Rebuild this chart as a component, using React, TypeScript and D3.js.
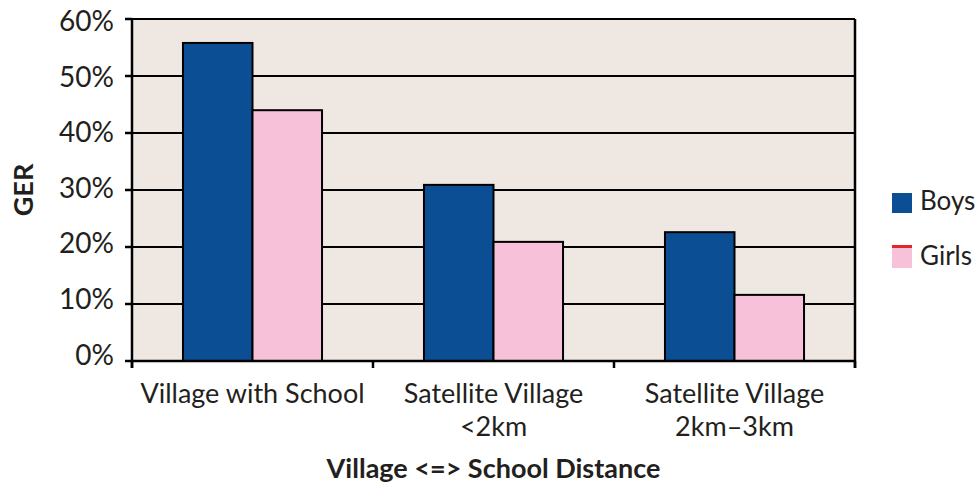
import React from "react";
import * as d3 from "d3";

const categories: string[][] = [
  ["Village with School"],
  ["Satellite Village", "<2km"],
  ["Satellite Village", "2km–3km"],
];
const seriesNames = ["Boys", "Girls"];
const boys = [55.8, 30.9, 22.6];
const girls = [44.0, 20.9, 11.6];
const yTicks = [0, 10, 20, 30, 40, 50, 60];
const yTitle = "GER";
const xTitle = "Village <=> School Distance";

const W = 977;
const H = 484;
const M = { left: 132, right: 855, top: 19, bottom: 361 };
const FONT = "Lato, 'Noto Sans', sans-serif";
const TEXT = "#231f20";
const BG = "#efe8e2";
const BLUE = "#0c4e93";
const PINK = "#f6c1d9";
const RED = "#e4262b";

export default function App() {
  const catKeys = categories.map((c) => c.join(" "));
  const x0 = d3
    .scaleBand<string>()
    .domain(catKeys)
    .range([M.left, M.right])
    .paddingInner(0.423)
    .paddingOuter(0.2115);
  const x1 = d3.scaleBand<string>().domain(seriesNames).range([0, x0.bandwidth()]);
  const y = d3.scaleLinear().domain([0, 60]).range([M.bottom, M.top]);
  const yLab = d3.scaleLinear().domain([0, 60]).range([355.5, 22]);
  const step = (M.right - M.left) / categories.length;
  const boundaries = d3.range(categories.length + 1).map((i) => M.left + i * step);
  const values = [boys, girls];
  const colors = [BLUE, PINK];

  return (
    <svg
      width={W}
      height={H}
      style={{ position: "absolute", left: 0, top: 0, background: "#fff" }}
      fontFamily={FONT}
    >
      <rect x={M.left} y={M.top} width={M.right - M.left} height={M.bottom - M.top} fill={BG} />
      {yTicks.filter((t) => t > 0).map((t) => (
        <line key={"g" + t} x1={M.left} x2={M.right} y1={y(t)} y2={y(t)} stroke="#000" strokeWidth={2} />
      ))}
      {catKeys.map((k, ci) =>
        seriesNames.map((s, si) => (
          <rect
            key={k + s}
            x={(x0(k) as number) + (x1(s) as number)}
            y={y(values[si][ci])}
            width={x1.bandwidth()}
            height={M.bottom - y(values[si][ci])}
            fill={colors[si]}
            stroke="#000"
            strokeWidth={2}
          />
        ))
      )}
      {/* axes */}
      <line x1={M.left} x2={M.left} y1={M.top} y2={M.bottom + 7} stroke="#000" strokeWidth={2.5} />
      <line x1={M.right} x2={M.right} y1={M.top} y2={M.bottom + 7} stroke="#000" strokeWidth={2.5} />
      <line x1={M.left} x2={M.right} y1={M.bottom} y2={M.bottom} stroke="#000" strokeWidth={2.5} />
      {yTicks.map((t) => (
        <line key={"t" + t} x1={M.left - 7} x2={M.left} y1={y(t)} y2={y(t)} stroke="#000" strokeWidth={2.5} />
      ))}
      {boundaries.map((bx, i) => (
        <line key={"b" + i} x1={bx} x2={bx} y1={M.bottom} y2={M.bottom + 7} stroke="#000" strokeWidth={2.5} />
      ))}
      {yTicks.map((t) => (
        <text key={"l" + t} x={114} y={yLab(t) + 9} textAnchor="end" fontSize={28} fill={TEXT}>
          {t + "%"}
        </text>
      ))}
      {categories.map((lines, ci) => (
        <text
          key={"c" + ci}
          x={(x0(catKeys[ci]) as number) + x0.bandwidth() / 2}
          y={403}
          textAnchor="middle"
          fontSize={27}
          fill={TEXT}
        >
          {lines.map((ln, li) => (
            <tspan key={li} x={(x0(catKeys[ci]) as number) + x0.bandwidth() / 2} dy={li === 0 ? 0 : 33}>
              {ln}
            </tspan>
          ))}
        </text>
      ))}
      <text x={(M.left + M.right) / 2} y={478} textAnchor="middle" fontSize={27} fontWeight="bold" fill={TEXT}>
        {xTitle}
      </text>
      <text
        transform={`translate(33,${(M.top + M.bottom) / 2}) rotate(-90)`}
        textAnchor="middle"
        fontSize={27}
        fontWeight="bold"
        fill={TEXT}
      >
        {yTitle}
      </text>
      {/* legend */}
      <rect x={892} y={193} width={20} height={20} fill={BLUE} />
      <text x={920} y={210} fontSize={26} fill={TEXT}>
        {seriesNames[0]}
      </text>
      <rect x={892} y={248} width={20} height={20} fill={PINK} />
      <rect x={892} y={245} width={20} height={3} fill={RED} />
      <text x={920} y={265} fontSize={26} fill={TEXT}>
        {seriesNames[1]}
      </text>
    </svg>
  );
}
